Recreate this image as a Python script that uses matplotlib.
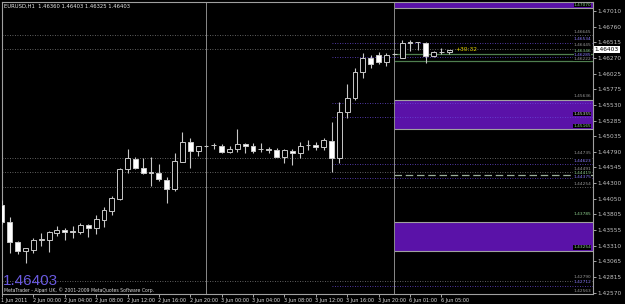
import matplotlib.pyplot as plt
from matplotlib.transforms import blended_transform_factory

# EURUSD H1 candles, 1 Jun 2011 20:00 .. 6 Jun 2011 06:00
opens = [1.43954, 1.43687, 1.43372, 1.43230, 1.43246, 1.43403, 1.43403, 1.43513, 1.43561, 1.43545,
         1.43529, 1.43639, 1.43592, 1.43718, 1.43860, 1.44049, 1.44521, 1.44679, 1.44537, 1.44459,
         1.44459, 1.44348, 1.44207, 1.44632, 1.44947, 1.44805, 1.44884, 1.44899, 1.44884, 1.44789,
         1.44836, 1.44915, 1.44884, 1.44836, 1.44836, 1.44821, 1.44710, 1.44805, 1.44773, 1.44899,
         1.44899, 1.44868, 1.44962, 1.44695, 1.45419, 1.45640, 1.46049, 1.46270, 1.46317, 1.46207,
         1.46333, 1.46270, 1.46522, 1.46522, 1.46506, 1.46301, 1.46365, 1.46360]
highs = [1.44033, 1.43765, 1.43387, 1.43277, 1.43435, 1.43513, 1.43545, 1.43624, 1.43592, 1.43624,
         1.43671, 1.43655, 1.43797, 1.43923, 1.44096, 1.44537, 1.44836, 1.44710, 1.44695, 1.44710,
         1.44600, 1.44395, 1.44773, 1.45104, 1.45010, 1.44884, 1.44899, 1.44931, 1.44915, 1.44884,
         1.45151, 1.44931, 1.44931, 1.44931, 1.44868, 1.44852, 1.44836, 1.44836, 1.44947, 1.44978,
         1.44947, 1.45010, 1.45262, 1.45577, 1.45860, 1.46112, 1.46348, 1.46317, 1.46365, 1.46348,
         1.46348, 1.46553, 1.46553, 1.46522, 1.46522, 1.46380, 1.46427, 1.46403]
lows = [1.43655, 1.43198, 1.43183, 1.43041, 1.43198, 1.43309, 1.43214, 1.43466, 1.43403, 1.43435,
        1.43498, 1.43450, 1.43498, 1.43608, 1.43797, 1.44033, 1.44459, 1.44521, 1.44443, 1.44254,
        1.44333, 1.43986, 1.44175, 1.44632, 1.44537, 1.44726, 1.44868, 1.44836, 1.44773, 1.44773,
        1.44789, 1.44773, 1.44773, 1.44789, 1.44773, 1.44710, 1.44616, 1.44584, 1.44695, 1.44821,
        1.44821, 1.44821, 1.44474, 1.44616, 1.45325, 1.45608, 1.45955, 1.46112, 1.46175, 1.46144,
        1.46317, 1.46270, 1.46380, 1.46396, 1.46191, 1.46285, 1.46333, 1.46325]
closes = [1.43687, 1.43372, 1.43230, 1.43277, 1.43403, 1.43419, 1.43529, 1.43561, 1.43529, 1.43529,
          1.43639, 1.43592, 1.43734, 1.43876, 1.44065, 1.44521, 1.44695, 1.44537, 1.44459, 1.44474,
          1.44364, 1.44207, 1.44647, 1.44947, 1.44805, 1.44884, 1.44884, 1.44899, 1.44789, 1.44836,
          1.44915, 1.44884, 1.44805, 1.44836, 1.44821, 1.44710, 1.44821, 1.44773, 1.44884, 1.44899,
          1.44868, 1.44978, 1.44695, 1.45419, 1.45640, 1.46049, 1.46270, 1.46175, 1.46207, 1.46317,
          1.46333, 1.46506, 1.46506, 1.46522, 1.46301, 1.46365, 1.46360, 1.46403]

title_text = "EURUSD,H1  1.46360 1.46403 1.46325 1.46403"
last_price = 1.46403
timer_text = "+30:32"

date_ticks = [0, 4, 8, 12, 16, 20, 24, 28, 32, 36, 40, 44, 48, 52, 56]
date_labels = ["1 Jun 2011", "2 Jun 00:00", "2 Jun 04:00", "2 Jun 08:00", "2 Jun 12:00",
               "2 Jun 16:00", "2 Jun 20:00", "3 Jun 00:00", "3 Jun 04:00", "3 Jun 08:00",
               "3 Jun 12:00", "3 Jun 16:00", "3 Jun 20:00", "6 Jun 01:00", "6 Jun 05:00"]

price_ticks = [1.42570, 1.42815, 1.43065, 1.43310, 1.43555, 1.43805, 1.44050, 1.44300, 1.44545,
               1.44790, 1.45035, 1.45285, 1.45530, 1.45775, 1.46025, 1.46270, 1.46515, 1.46760,
               1.47010]

separators = [26, 50]
zone_start = 50
zones = [(1.47057, 1.47200), (1.45147, 1.45608), (1.43225, 1.43682)]

grey_levels = [1.46632, 1.46411, 1.44702, 1.44469, 1.44243, 1.42762]
purple_start = 42
purple_levels = [1.46506, 1.46285, 1.45556, 1.45336, 1.44600, 1.44375, 1.42678]
green_levels = [1.46333, 1.46222]
dash_level = 1.44419

level_labels = [
    (1.47070, "1.47070", "#8fd18f"),
    (1.46645, "1.46645", "#9a9a9a"),
    (1.46534, "1.46534", "#8c7cff"),
    (1.46445, "1.46445", "#9a9a9a"),
    (1.46346, "1.46346", "#8fd18f"),
    (1.46285, "1.46285", "#8c7cff"),
    (1.46222, "1.46222", "#9a9a9a"),
    (1.45636, "1.45636", "#9a9a9a"),
    (1.45355, "1.45355", "#d0d0d0"),
    (1.45165, "1.45165", "#8fd18f"),
    (1.44735, "1.44735", "#9a9a9a"),
    (1.44623, "1.44623", "#8c7cff"),
    (1.44491, "1.44491", "#9a9a9a"),
    (1.44430, "1.44419", "#8fd18f"),
    (1.44365, "1.44375", "#8c7cff"),
    (1.44254, "1.44254", "#9a9a9a"),
    (1.43785, "1.43785", "#8fd18f"),
    (1.43254, "1.43254", "#8fd18f"),
    (1.42790, "1.42790", "#9a9a9a"),
    (1.42712, "1.42712", "#8c7cff"),
    (1.42563, "1.42563", "#9a9a9a"),
]

fig = plt.figure(figsize=(6.25, 3.04), dpi=100, facecolor="black")
ax = fig.add_axes([2 / 625, 10 / 304, 591 / 625, 292 / 304])
ax.set_facecolor("black")
ax.set_xlim(0.186, 75.33)
ax.set_ylim(1.42552, 1.47152)

xmax = 75.33
purple = "#5a12a8"

# zones and levels
for lo, hi in zones:
    ax.fill_between([zone_start, xmax], lo, hi, color=purple, lw=0, zorder=1)
    ax.hlines([lo, hi], zone_start, xmax, color="#a0a0a0", lw=0.8, zorder=2)
ax.hlines(grey_levels, 0, xmax, color="#808080", lw=0.6, linestyles=(0, (1, 2)), zorder=2)
ax.hlines(purple_levels, purple_start, xmax, color="#6a4ad8", lw=0.6, linestyles=(0, (1, 2)), zorder=2)
ax.hlines(green_levels, zone_start, xmax, color="#4f7f4f", lw=0.9, zorder=2)
ax.hlines(dash_level, zone_start, xmax, color="#9aae9a", lw=0.9, linestyles=(0, (6, 3)), zorder=2)
ax.vlines(separators, 1.42552, 1.47152, color="#8a8a8a", lw=0.7, zorder=2)

# candles
edge = "#c8c8c8"
for i in range(len(opens)):
    o, h, l, c = opens[i], highs[i], lows[i], closes[i]
    ax.vlines(i, l, h, color=edge, lw=0.8, zorder=3)
    bottom = min(o, c)
    height = max(abs(c - o), 0.00002)
    face = "white" if c < o else "black"
    ax.bar(i, height, bottom=bottom, width=0.62, color=face, edgecolor=edge, lw=0.7, zorder=4)

# right labels of levels
trans = blended_transform_factory(ax.transAxes, ax.transData)
for p, txt, col in level_labels:
    ax.text(0.997, p, txt, transform=trans, ha="right", va="bottom", fontsize=3.1,
            color=col, zorder=6, bbox=dict(facecolor="black", edgecolor="none", pad=0.05))

ax.text(57.8, last_price, timer_text, fontsize=4.2, color="#e0d000", va="center", zorder=6)

# price axis
ax.yaxis.tick_right()
ax.set_yticks(price_ticks)
ax.set_yticklabels([f"{p:.5f}" for p in price_ticks])
ax.tick_params(axis="y", colors="#c0c0c0", labelsize=4.2, length=2, width=0.6, pad=1.5)
ax.text(1.003, last_price, f"{last_price:.5f}", transform=trans, ha="left", va="center",
        fontsize=4.2, color="black", zorder=7, clip_on=False,
        bbox=dict(facecolor="white", edgecolor="none", pad=0.6))

# time axis
ax.set_xticks(date_ticks)
ax.set_xticklabels([])
ax.tick_params(axis="x", colors="#c0c0c0", length=2, width=0.6)
xtrans = blended_transform_factory(ax.transData, ax.transAxes)
for t, lab in zip(date_ticks, date_labels):
    ax.text(t - 0.1, -0.012, lab, transform=xtrans, ha="left", va="top", fontsize=3.5,
            color="#e0e0e0", clip_on=False)

for s in ax.spines.values():
    s.set_color("#a0a0a0")
    s.set_linewidth(0.8)

ax.text(0.003, 0.993, title_text, transform=ax.transAxes, ha="left", va="top",
        fontsize=3.8, color="#e8e8e8", zorder=7)
ax.text(0.002, 0.022, f"{last_price:.5f}", transform=ax.transAxes, ha="left", va="bottom",
        fontsize=11, color="#6a5ae0", family="Liberation Sans", zorder=6)
ax.text(0.003, 0.002, "MetaTrader - Alpari UK, \u00a9 2001-2009 MetaQuotes Software Corp.",
        transform=ax.transAxes, ha="left", va="bottom", fontsize=3.3, color="#d8d8d8", zorder=7)

fig.savefig("out.png", dpi=100, facecolor="black")
